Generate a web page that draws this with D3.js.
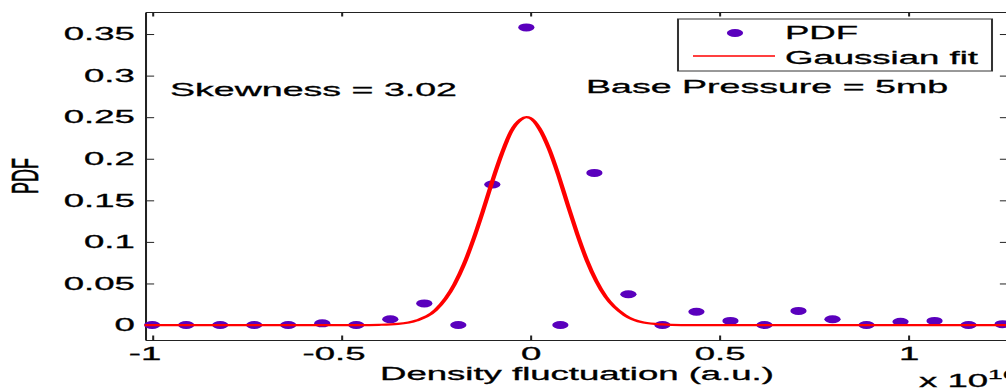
<!DOCTYPE html>
<html>
<head>
<meta charset="utf-8">
<script src="https://cdnjs.cloudflare.com/ajax/libs/d3/7.8.5/d3.min.js"></script>
<style>
  body { margin: 0; background: #fff; }
  #viz text { font-family: "Liberation Sans", Arial, sans-serif; fill: #000; stroke: #000; stroke-width: 0.3px; }
  .axis path, .axis line { stroke: #222; }
</style>
</head>
<body>
<svg id="viz" width="1006" height="392"></svg>
<script>
// PDF points (x in units of 1e16)
const pdf_x = [-1.0, -0.91, -0.82, -0.73, -0.64, -0.55, -0.46, -0.37, -0.28, -0.19, -0.10, -0.01,
               0.08, 0.17, 0.26, 0.35, 0.44, 0.53, 0.62, 0.71, 0.80, 0.89, 0.98, 1.07, 1.16, 1.25]
const pdf_y = [0, 0, 0, 0, 0, 0.002, 0, 0.007, 0.026, 0, 0.169, 0.358,
               0, 0.183, 0.037, 0, 0.016, 0.005, 0, 0.017, 0.007, 0, 0.004, 0.005, 0, 0.001]

// gaussian fit curve
const fit_x = [-1.02, -0.45, -0.4, -0.35, -0.3, -0.25, -0.2, -0.175, -0.15, -0.125, -0.1, -0.075, -0.05,
               -0.025, -0.01, 0, 0.025, 0.05, 0.075, 0.1, 0.125, 0.15, 0.175, 0.2, 0.25, 0.3, 0.35, 0.4, 0.45, 1.27]
const fit_y = [0, 0, 0.0003, 0.0013, 0.0055, 0.018, 0.049, 0.073, 0.103, 0.137, 0.173, 0.206, 0.233,
               0.247, 0.25, 0.249, 0.236, 0.212, 0.180, 0.144, 0.109, 0.078, 0.053, 0.034, 0.012, 0.003, 0.0007, 0, 0, 0]

const x_ticks = [-1, -0.5, 0, 0.5, 1]
const y_ticks = [0, 0.05, 0.1, 0.15, 0.2, 0.25, 0.3, 0.35]

// the original figure is stretched horizontally, so draw everything in a squeezed
// coordinate system and scale it back out
const S = 2.03

const svg = d3.select("#viz")
const g = svg.append("g").attr("transform", `scale(${S},1)`)

const x = d3.scaleLinear().domain([-1.019, 1.267]).range([145 / S, 1009 / S]),
      y = d3.scaleLinear().domain([-0.018, 0.3765]).range([340, 12])

const fmt = d => String(d)

// axes, ticks pointing inward
g.append("g").attr("class", "axis")
    .attr("transform", `translate(0,${y.range()[0]})`)
    .call(d3.axisBottom(x).tickValues(x_ticks).tickFormat(fmt)
        .tickSizeInner(-4.5).tickSizeOuter(0).tickPadding(7))
    .call(a => a.selectAll("text").attr("font-size", 18)
        .attr("dx", d => d < 0 ? -4 : 0))

g.append("g").attr("class", "axis")
    .attr("transform", `translate(0,${y.range()[1]})`)
    .call(d3.axisTop(x).tickValues(x_ticks).tickFormat("")
        .tickSizeInner(-4.5).tickSizeOuter(0))

g.append("g").attr("class", "axis")
    .attr("transform", `translate(${x.range()[0]},0)`)
    .call(d3.axisLeft(y).tickValues(y_ticks).tickFormat(fmt)
        .tickSizeInner(-4.5).tickSizeOuter(0).tickPadding(5))
    .call(a => a.selectAll("text").attr("font-size", 18))

g.append("g").attr("class", "axis")
    .attr("transform", `translate(${x.range()[1]},0)`)
    .call(d3.axisRight(y).tickValues(y_ticks).tickFormat("")
        .tickSizeInner(-4.5).tickSizeOuter(0))

svg.selectAll(".axis text").attr("font-family", "Liberation Sans, Arial, sans-serif")

// PDF markers
g.append("g")
    .selectAll("circle")
    .data(d3.zip(pdf_x, pdf_y))
    .enter().append("circle")
    .attr("cx", d => x(d[0]))
    .attr("cy", d => y(d[1]))
    .attr("r", 4)
    .attr("fill", "#5a00bd")

// gaussian fit
g.append("path")
    .datum(d3.zip(fit_x, fit_y))
    .attr("fill", "none")
    .attr("stroke", "#ff0000")
    .attr("stroke-width", 2.2)
    .attr("d", d3.line().x(d => x(d[0])).y(d => y(d[1])).curve(d3.curveMonotoneX))

// annotations
g.append("text").attr("x", 170 / S).attr("y", 96)
    .attr("font-size", 18.5).text("Skewness = 3.02")
g.append("text").attr("x", 586 / S).attr("y", 93)
    .attr("font-size", 18.5).text("Base Pressure = 5mb")

// axis labels
g.append("text")
    .attr("x", (x.range()[0] + x.range()[1]) / 2).attr("y", 380)
    .attr("text-anchor", "middle").attr("font-size", 18)
    .text("Density fluctuation (a.u.)")

g.append("text")
    .attr("transform", `translate(${38 / S},${(y.range()[0] + y.range()[1]) / 2}) rotate(-90)`)
    .attr("text-anchor", "middle").attr("font-size", 18)
    .text("PDF")

const mult = g.append("text").attr("x", 919 / S).attr("y", 387).attr("font-size", 18)
mult.append("tspan").text("x 10")
mult.append("tspan").attr("font-size", 13).attr("dy", -8).text("16")

// legend
const legend = g.append("g")
legend.append("rect")
    .attr("x", 678 / S).attr("y", 19)
    .attr("width", (992 - 678) / S).attr("height", 52)
    .attr("fill", "#fff").attr("stroke", "#333").attr("stroke-width", 1)
legend.append("circle")
    .attr("cx", 735 / S).attr("cy", 33).attr("r", 4).attr("fill", "#5a00bd")
legend.append("line")
    .attr("x1", 693 / S).attr("x2", 775 / S).attr("y1", 56).attr("y2", 56)
    .attr("stroke", "#ff0000").attr("stroke-width", 1.5)
legend.append("text").attr("x", 785 / S).attr("y", 39).attr("font-size", 18).text("PDF")
legend.append("text").attr("x", 785 / S).attr("y", 64).attr("font-size", 18).text("Gaussian fit")
</script>
</body>
</html>
